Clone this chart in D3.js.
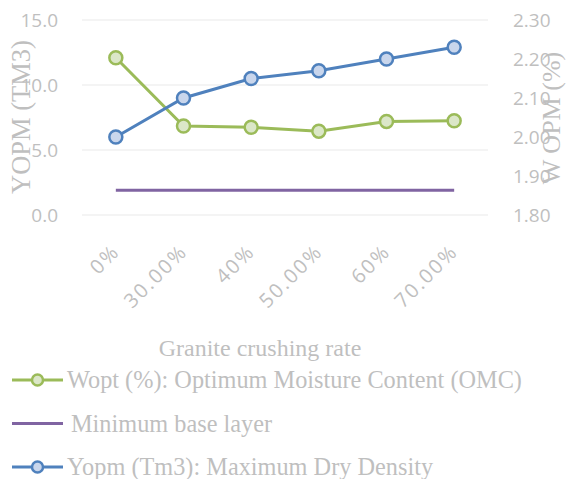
<html>
<head>
  <style>
    body { margin: 0; background-color: #ffffff; }
  </style>
  <script src="https://d3js.org/d3.v7.min.js"></script>
</head>
<body>
  <div id="chart-container"></div>
  <script>
    const categories = ["0%", "30.00%", "40%", "50.00%", "60%", "70.00%"];
    const woptValues = [12.1, 6.85, 6.75, 6.45, 7.2, 7.25];        // left axis
    const yopmValues = [2.00, 2.10, 2.15, 2.17, 2.20, 2.23];       // right axis
    const minBaseValues = [1.9, 1.9, 1.9, 1.9, 1.9, 1.9];         // left axis
    const leftTicks = [0, 5, 10, 15];
    const rightTicks = [1.8, 1.9, 2.0, 2.1, 2.2, 2.3];

    const W = 572, H = 479;
    const plot = { left: 82, right: 488, top: 20, bottom: 215 };
    const grey = "#bfbfbf";
    const green = "#9bbb59", blue = "#4f81bd", purple = "#8064a2";
    const serif = "'Liberation Serif', 'Times New Roman', serif";
    const sans = "'Open Sans', 'Liberation Sans', sans-serif";

    const svg = d3.select("#chart-container")
      .append("svg")
      .attr("width", W)
      .attr("height", H);

    const x = d3.scaleBand()
      .domain(categories)
      .range([plot.left, plot.right]);

    const yL = d3.scaleLinear().domain([0, 15]).range([plot.bottom, plot.top]);
    const yR = d3.scaleLinear().domain([1.8, 2.3]).range([plot.bottom, plot.top]);

    // gridlines
    svg.append("g")
      .selectAll("line")
      .data(leftTicks)
      .enter()
      .append("line")
      .attr("x1", plot.left)
      .attr("x2", plot.right)
      .attr("y1", d => yL(d))
      .attr("y2", d => yL(d))
      .attr("stroke", "#f0f0f0")
      .attr("stroke-width", 1.5);

    // left axis
    const gl = svg.append("g")
      .attr("transform", `translate(${plot.left}, 0)`)
      .call(d3.axisLeft(yL).tickValues(leftTicks).tickFormat(d3.format(".1f")).tickSize(0).tickPadding(24));
    gl.select(".domain").remove();
    gl.selectAll("text").attr("fill", grey).style("font-family", sans).style("font-size", "19px");

    // right axis
    const gr = svg.append("g")
      .attr("transform", `translate(${plot.right}, 0)`)
      .call(d3.axisRight(yR).tickValues(rightTicks).tickFormat(d3.format(".2f")).tickSize(0).tickPadding(25));
    gr.select(".domain").remove();
    gr.selectAll("text").attr("fill", grey).style("font-family", sans).style("font-size", "19px");

    // x axis labels (rotated)
    const gx = svg.append("g")
      .attr("transform", `translate(0, ${plot.bottom})`)
      .call(d3.axisBottom(x).tickSize(0).tickPadding(0));
    gx.select(".domain").remove();
    gx.selectAll("text")
      .attr("fill", grey)
      .style("font-family", sans)
      .style("font-size", "20px")
      .style("letter-spacing", "2px")
      .style("text-anchor", "end")
      .attr("dy", 0)
      .attr("y", 0)
      .attr("transform", "translate(5, 38) rotate(-45)");

    // axis titles
    svg.append("text")
      .attr("transform", "translate(30, 117) rotate(-90)")
      .attr("text-anchor", "middle")
      .attr("fill", grey)
      .style("font-family", serif)
      .style("font-size", "26.5px")
      .text("YOPM (TM3)");

    svg.append("text")
      .attr("transform", "translate(560, 118) rotate(-90)")
      .attr("text-anchor", "middle")
      .attr("fill", grey)
      .style("font-family", serif)
      .style("font-size", "26px")
      .text("W OPM (%)");

    svg.append("text")
      .attr("x", 260)
      .attr("y", 356)
      .attr("text-anchor", "middle")
      .attr("fill", grey)
      .style("font-family", serif)
      .style("font-size", "24px")
      .text("Granite crushing rate");

    const cx = d => x(d) + x.bandwidth() / 2;

    // minimum base layer
    svg.append("path")
      .datum(categories.map((c, i) => [c, minBaseValues[i]]))
      .attr("fill", "none")
      .attr("stroke", purple)
      .attr("stroke-width", 3)
      .attr("d", d3.line().x(d => cx(d[0])).y(d => yL(d[1])));

    function drawSeries(vals, yScale, color, fill) {
      const pts = categories.map((c, i) => [c, vals[i]]);
      svg.append("path")
        .datum(pts)
        .attr("fill", "none")
        .attr("stroke", color)
        .attr("stroke-width", 3)
        .attr("d", d3.line().x(d => cx(d[0])).y(d => yScale(d[1])));
      svg.append("g")
        .selectAll("circle")
        .data(pts)
        .enter()
        .append("circle")
        .attr("cx", d => cx(d[0]))
        .attr("cy", d => yScale(d[1]))
        .attr("r", 6.5)
        .attr("fill", fill)
        .attr("stroke", color)
        .attr("stroke-width", 2.5);
    }

    drawSeries(woptValues, yL, green, "#dbe7c8");
    drawSeries(yopmValues, yR, blue, "#c9d6ec");

    // legend
    const legend = [
      { label: "Wopt (%): Optimum Moisture Content (OMC)", color: green, fill: "#dbe7c8", marker: true, tx: 67 },
      { label: "Minimum base layer", color: purple, marker: false, tx: 71 },
      { label: "Yopm (Tm3): Maximum Dry Density", color: blue, fill: "#c9d6ec", marker: true, tx: 67 }
    ];
    const lg = svg.append("g");
    legend.forEach((d, i) => {
      const ly = 380 + i * 43.5;
      lg.append("line")
        .attr("x1", 12).attr("x2", 63)
        .attr("y1", ly).attr("y2", ly)
        .attr("stroke", d.color)
        .attr("stroke-width", 3);
      if (d.marker) {
        lg.append("circle")
          .attr("cx", 37.5).attr("cy", ly)
          .attr("r", 5.5)
          .attr("fill", d.fill)
          .attr("stroke", d.color)
          .attr("stroke-width", 2.5);
      }
      lg.append("text")
        .attr("x", d.tx)
        .attr("y", ly + 8)
        .attr("fill", grey)
        .style("font-family", serif)
        .style("font-size", "24.3px")
        .text(d.label);
    });
  </script>
</body>
</html>
